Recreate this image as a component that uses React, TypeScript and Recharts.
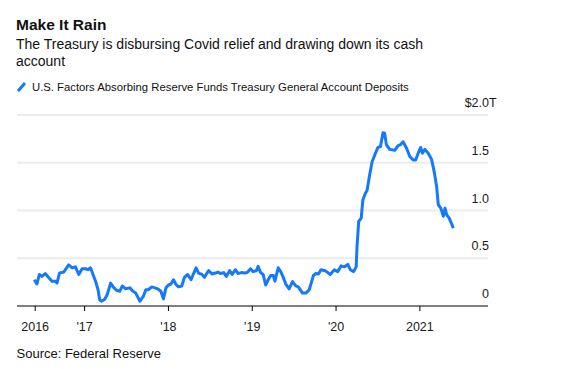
import { LineChart, Line, XAxis, YAxis, ReferenceLine } from "recharts";

// weekly-ish observations, decimal years
const DATES = [
  2016.4, 2016.43, 2016.46, 2016.49, 2016.53, 2016.56, 2016.61, 2016.65, 2016.67, 2016.7,
  2016.75, 2016.77, 2016.81, 2016.85, 2016.89, 2016.93, 2016.97, 2017.01, 2017.04, 2017.07,
  2017.1, 2017.13, 2017.16, 2017.18, 2017.2, 2017.24, 2017.27, 2017.31, 2017.34, 2017.38,
  2017.42, 2017.45, 2017.49, 2017.54, 2017.57, 2017.61, 2017.66, 2017.7, 2017.73, 2017.76,
  2017.8, 2017.84, 2017.87, 2017.91, 2017.94, 2017.97, 2018.0, 2018.03, 2018.06, 2018.09,
  2018.12, 2018.16, 2018.19, 2018.23, 2018.27, 2018.3, 2018.33, 2018.36, 2018.4, 2018.43,
  2018.46, 2018.48, 2018.52, 2018.56, 2018.59, 2018.62, 2018.66, 2018.69, 2018.73, 2018.76,
  2018.8, 2018.83, 2018.87, 2018.91, 2018.94, 2018.98, 2019.01, 2019.05, 2019.07, 2019.1,
  2019.13, 2019.16, 2019.19, 2019.22, 2019.25, 2019.27, 2019.31, 2019.34, 2019.37, 2019.4,
  2019.44, 2019.48, 2019.52, 2019.55, 2019.6, 2019.64, 2019.68, 2019.73, 2019.76, 2019.79,
  2019.82, 2019.87, 2019.93, 2019.98, 2020.02, 2020.06, 2020.1, 2020.14, 2020.17, 2020.21,
  2020.24, 2020.25, 2020.27, 2020.3, 2020.32, 2020.35, 2020.37, 2020.4, 2020.43, 2020.47,
  2020.5, 2020.53, 2020.56, 2020.58, 2020.6, 2020.64, 2020.7, 2020.74, 2020.77, 2020.8,
  2020.84, 2020.88, 2020.92, 2020.95, 2020.98, 2021.01, 2021.03, 2021.06, 2021.1, 2021.14,
  2021.17, 2021.2, 2021.22, 2021.25, 2021.28, 2021.3, 2021.32, 2021.35, 2021.4,
];

// Treasury General Account deposits, $ trillions
const TGA = [
  0.275, 0.23, 0.33, 0.31, 0.34, 0.31, 0.26, 0.26, 0.24, 0.345,
  0.355, 0.38, 0.43, 0.4, 0.41, 0.33, 0.39, 0.39, 0.38, 0.4,
  0.33, 0.26, 0.17, 0.065, 0.05, 0.07, 0.12, 0.24, 0.2, 0.165,
  0.155, 0.21, 0.18, 0.19, 0.16, 0.135, 0.05, 0.1, 0.17, 0.17,
  0.2, 0.19, 0.18, 0.155, 0.075, 0.19, 0.22, 0.23, 0.275, 0.225,
  0.2, 0.21, 0.3, 0.33, 0.275, 0.34, 0.4, 0.345, 0.33, 0.3,
  0.345, 0.37, 0.335, 0.345, 0.355, 0.34, 0.35, 0.31, 0.37, 0.33,
  0.38, 0.34, 0.35, 0.345, 0.35, 0.39, 0.36, 0.37, 0.415, 0.35,
  0.33, 0.22, 0.275, 0.32, 0.32, 0.26, 0.4, 0.36, 0.3, 0.23,
  0.18, 0.255, 0.21, 0.2, 0.135, 0.135, 0.17, 0.32, 0.34, 0.335,
  0.38, 0.37, 0.33, 0.38, 0.36, 0.42, 0.41, 0.435, 0.38, 0.36,
  0.41, 0.62, 0.885, 0.92, 1.11, 1.18, 1.21, 1.37, 1.51, 1.6,
  1.66, 1.67, 1.815, 1.81, 1.69, 1.64, 1.63, 1.68, 1.69, 1.72,
  1.655, 1.565, 1.53, 1.53, 1.6, 1.66, 1.6, 1.64, 1.6, 1.535,
  1.41, 1.25, 1.06, 1.025, 0.94, 1.025, 0.955, 0.92, 0.815,
];

const X_TICKS = [2016.41, 2017, 2018, 2019, 2020, 2021];
const X_LABELS = ["2016", "'17", "'18", "'19", "'20", "2021"];
const Y_TICKS = [0, 0.5, 1, 1.5, 2];
const Y_LABELS = ["0", "0.5", "1.0", "1.5", "2.0"];

const data = DATES.map((t, i) => ({ t, v: TGA[i] }));

const BLUE = "#1479fa";
const FONT = "'Liberation Sans', Arial, sans-serif";

const XTick = ({ x, y, payload }: any) => {
  const i = X_TICKS.indexOf(payload.value);
  return (
    <text x={x} y={y + 18} textAnchor="middle" fontSize={12.5} fill="#1a1a1a" fontFamily={FONT}>
      {X_LABELS[i]}
    </text>
  );
};

const YTick = ({ y, payload }: any) => {
  const i = Y_TICKS.indexOf(payload.value);
  const last = i === Y_TICKS.length - 1;
  return (
    <g fontSize={12.5} fill="#1a1a1a" fontFamily={FONT}>
      <text x={489} y={y - 8} textAnchor="end">
        {last ? "$" + Y_LABELS[i] : Y_LABELS[i]}
      </text>
      {last && (
        <text x={489} y={y - 8} textAnchor="start">
          T
        </text>
      )}
    </g>
  );
};

export default function App() {
  return (
    <div
      style={{
        position: "absolute",
        left: 0,
        top: 0,
        width: 575,
        height: 369,
        background: "#fff",
        fontFamily: FONT,
        color: "#111",
      }}
    >
      <div style={{ position: "absolute", left: 16, top: 15, fontSize: 15.5, lineHeight: "20px", fontWeight: 700 }}>
        Make It Rain
      </div>
      <div style={{ position: "absolute", left: 16, top: 35.8, width: 440, fontSize: 14, lineHeight: "17.4px" }}>
        The Treasury is disbursing Covid relief and drawing down its cash account
      </div>
      <svg style={{ position: "absolute", left: 16, top: 81 }} width={12} height={12}>
        <line x1={2} y1={10} x2={9} y2={2} stroke={BLUE} strokeWidth={3} />
      </svg>
      <div style={{ position: "absolute", left: 32, top: 80, fontSize: 11.3, lineHeight: "14px" }}>
        U.S. Factors Absorbing Reserve Funds Treasury General Account Deposits
      </div>
      <div style={{ position: "absolute", left: 16.5, top: 346.3, fontSize: 13, lineHeight: "15px" }}>
        Source: Federal Reserve
      </div>
      <div style={{ position: "absolute", left: 0, top: 0 }}>
        <LineChart width={575} height={369} data={data} margin={{ top: 115, right: 0, bottom: 33, left: 17 }}>
          {Y_TICKS.slice(1).map((v) => (
            <ReferenceLine key={v} y={v} stroke="#ececec" strokeWidth={2} ifOverflow="extendDomain" />
          ))}
          <XAxis
            dataKey="t"
            type="number"
            domain={[2016.193, 2021.813]}
            ticks={X_TICKS}
            height={30}
            axisLine={{ stroke: "#000", strokeWidth: 1 }}
            tickLine={{ stroke: "#000" }}
            tickSize={5}
            tick={<XTick />}
            interval={0}
          />
          <YAxis
            orientation="right"
            type="number"
            domain={[0, 2]}
            ticks={Y_TICKS}
            width={87}
            axisLine={false}
            tickLine={false}
            tick={<YTick />}
            interval={0}
          />
          <Line
            type="linear"
            dataKey="v"
            stroke={BLUE}
            strokeWidth={3}
            dot={false}
            strokeLinejoin="round"
            isAnimationActive={false}
          />
        </LineChart>
      </div>
    </div>
  );
}
